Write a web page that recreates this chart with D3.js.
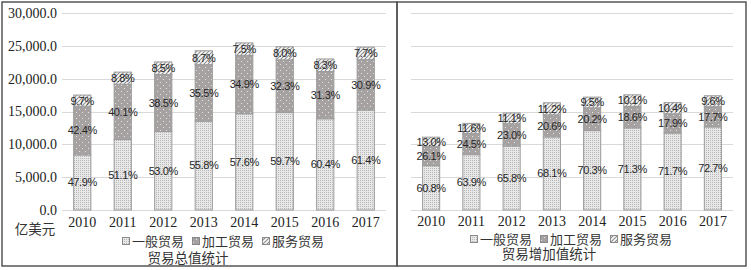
<!DOCTYPE html>
<html>
<head>
<meta charset="utf-8">
<script src="https://cdn.jsdelivr.net/npm/d3@7"></script>
<style>
    body { margin: 0; background: #fff; }
    .tick-label { font-family: "Liberation Serif", "DejaVu Serif", serif; font-size: 14px; fill: #222; }
    .cjk { font-family: "Noto Sans CJK SC", sans-serif; font-size: 13px; fill: #333; }
    .bar-label { font-family: "Liberation Sans", "DejaVu Sans", sans-serif; font-size: 11px; fill: #262626; letter-spacing: -0.4px; }
</style>
</head>
<body>
<div id="chart"></div>
<script>

// years on the x axis
let years = ["2010", "2011", "2012", "2013", "2014", "2015", "2016", "2017"];

// 贸易总值 (亿美元)
let totalGeneral    = [8380, 10730, 11950, 13530, 14660, 14840, 13890, 15230];
let totalProcessing = [7420, 8420, 8680, 8610, 8880, 8030, 7200, 7660];
let totalService    = [1700, 1850, 1920, 2110, 1910, 1990, 1910, 1910];
let totalGeneralPct    = ["47.9%", "51.1%", "53.0%", "55.8%", "57.6%", "59.7%", "60.4%", "61.4%"];
let totalProcessingPct = ["42.4%", "40.1%", "38.5%", "35.5%", "34.9%", "32.3%", "31.3%", "30.9%"];
let totalServicePct    = ["9.7%", "8.8%", "8.5%", "8.7%", "7.5%", "8.0%", "8.3%", "7.7%"];

// 贸易增加值 (亿美元)
let addedGeneral    = [6750, 8430, 9740, 11130, 12090, 12510, 11720, 12650];
let addedProcessing = [2900, 3230, 3400, 3370, 3470, 3260, 2930, 3080];
let addedService    = [1440, 1530, 1640, 1830, 1630, 1770, 1700, 1670];
let addedGeneralPct    = ["60.8%", "63.9%", "65.8%", "68.1%", "70.3%", "71.3%", "71.7%", "72.7%"];
let addedProcessingPct = ["26.1%", "24.5%", "23.0%", "20.6%", "20.2%", "18.6%", "17.9%", "17.7%"];
let addedServicePct    = ["13.0%", "11.6%", "11.1%", "11.2%", "9.5%", "10.1%", "10.4%", "9.6%"];

let yTicks = [0, 5000, 10000, 15000, 20000, 25000, 30000];
let seriesNames = ["一般贸易", "加工贸易", "服务贸易"];
let seriesKeys = ["general", "processing", "service"];


class StackVis {

    constructor(svg, config, data) {
        this.svg = svg;
        this.config = config;
        this.data = data;

        this.initVis();
    }

    initVis() {
        let vis = this;
        let c = vis.config;

        vis.g = vis.svg.append("g");

        // panel border
        vis.g.append("rect")
            .attr("x", c.box[0])
            .attr("y", c.box[1])
            .attr("width", c.box[2])
            .attr("height", c.box[3])
            .attr("fill", "none")
            .attr("stroke", "#555")
            .attr("stroke-width", 1.5);

        vis.x = d3.scaleBand()
            .domain(years)
            .range([c.left, c.right])
            .paddingInner(0.55)
            .paddingOuter(0.275);

        vis.y = d3.scaleLinear()
            .domain([0, 30000])
            .range([c.bottom, c.top]);

        // gridlines
        vis.g.selectAll(".grid")
            .data(yTicks)
            .enter()
            .append("line")
            .attr("x1", c.left)
            .attr("x2", c.right)
            .attr("y1", d => Math.round(vis.y(d)) + 0.5)
            .attr("y2", d => Math.round(vis.y(d)) + 0.5)
            .attr("stroke", "#d9d9d9")
            .attr("stroke-width", 1);

        if (c.showYAxis) {
            vis.g.selectAll(".ytick")
                .data(yTicks)
                .enter()
                .append("text")
                .attr("class", "tick-label")
                .attr("x", c.left - 5)
                .attr("y", d => vis.y(d))
                .attr("dy", "0.35em")
                .attr("text-anchor", "end")
                .text(d => d3.format(",.1f")(d));

            vis.g.append("text")
                .attr("class", "cjk")
                .attr("x", 35)
                .attr("y", 229)
                .attr("dy", "0.35em")
                .attr("text-anchor", "middle")
                .style("font-size", "13.5px")
                .text("亿美元");
        }

        // year labels
        vis.g.selectAll(".xtick")
            .data(years)
            .enter()
            .append("text")
            .attr("class", "tick-label")
            .attr("x", d => vis.x(d) + vis.x.bandwidth() / 2)
            .attr("y", c.yearY)
            .attr("dy", "0.35em")
            .attr("text-anchor", "middle")
            .text(d => d);

        vis.wrangleData();
    }

    wrangleData() {
        let vis = this;

        vis.rows = years.map((yr, i) => ({
            year: yr,
            general: vis.data.general[i],
            processing: vis.data.processing[i],
            service: vis.data.service[i],
            labels: [vis.data.generalPct[i], vis.data.processingPct[i], vis.data.servicePct[i]]
        }));

        vis.stacked = d3.stack().keys(seriesKeys)(vis.rows);

        vis.updateVis();
    }

    updateVis() {
        let vis = this;
        let c = vis.config;

        let layers = vis.g.selectAll(".layer")
            .data(vis.stacked)
            .enter()
            .append("g")
            .attr("class", "layer")
            .attr("fill", (d, i) => "url(#pat-" + seriesKeys[i] + ")");

        layers.selectAll("rect")
            .data(d => d)
            .enter()
            .append("rect")
            .attr("x", d => vis.x(d.data.year) + 0.5)
            .attr("y", d => vis.y(d[1]))
            .attr("width", vis.x.bandwidth() - 1)
            .attr("height", d => vis.y(d[0]) - vis.y(d[1]))
            .attr("stroke", "#9c9c9c")
            .attr("stroke-width", 1);

        vis.stacked.forEach((layer, li) => {
            vis.g.selectAll(".lbl-" + li)
                .data(layer)
                .enter()
                .append("text")
                .attr("class", "bar-label")
                .attr("x", d => vis.x(d.data.year) + vis.x.bandwidth() / 2)
                .attr("y", d => (vis.y(d[0]) + vis.y(d[1])) / 2)
                .attr("dy", "0.35em")
                .attr("text-anchor", "middle")
                .text(d => d.data.labels[li]);
        });

        // legend
        let legend = vis.g.append("g")
            .attr("transform", `translate(${c.legendX}, ${c.legendY})`);

        let items = legend.selectAll(".item")
            .data(seriesNames)
            .enter()
            .append("g")
            .attr("transform", (d, i) => `translate(${i * 70}, 0)`);

        items.append("rect")
            .attr("x", 0.5)
            .attr("y", -3.5)
            .attr("width", 7)
            .attr("height", 7)
            .attr("fill", (d, i) => "url(#pat-" + seriesKeys[i] + ")")
            .attr("stroke", "#8a8a8a");

        items.append("text")
            .attr("class", "cjk")
            .attr("x", 10)
            .attr("y", 0)
            .attr("dy", "0.35em")
            .text(d => d);

        vis.g.append("text")
            .attr("class", "cjk")
            .attr("x", c.titleX)
            .attr("y", c.titleY)
            .attr("dy", "0.35em")
            .attr("text-anchor", "middle")
            .style("font-size", "13.5px")
            .text(c.title);
    }
}


let svg = d3.select("#chart").append("svg")
    .attr("width", 751)
    .attr("height", 270);

// fill patterns
let defs = svg.append("defs");

let pGen = defs.append("pattern")
    .attr("id", "pat-general")
    .attr("patternUnits", "userSpaceOnUse")
    .attr("width", 2)
    .attr("height", 2);
pGen.append("rect").attr("width", 2).attr("height", 2).attr("fill", "#e8e8e8");
pGen.append("rect").attr("width", 1).attr("height", 1).attr("fill", "#b8b8b8");

let pProc = defs.append("pattern")
    .attr("id", "pat-processing")
    .attr("patternUnits", "userSpaceOnUse")
    .attr("width", 6)
    .attr("height", 6);
pProc.append("rect").attr("width", 6).attr("height", 6).attr("fill", "#a6a2a2");
pProc.append("rect").attr("x", 1).attr("y", 1).attr("width", 1).attr("height", 1).attr("fill", "#e4e2e2");
pProc.append("rect").attr("x", 4).attr("y", 4).attr("width", 1).attr("height", 1).attr("fill", "#e4e2e2");

let pServ = defs.append("pattern")
    .attr("id", "pat-service")
    .attr("patternUnits", "userSpaceOnUse")
    .attr("width", 4)
    .attr("height", 4);
pServ.append("rect").attr("width", 4).attr("height", 4).attr("fill", "#fafafa");
pServ.append("path").attr("d", "M-1,1 l2,-2 M0,4 l4,-4 M3,5 l2,-2").attr("stroke", "#8e8e8e").attr("stroke-width", 1.1);

let totalChart = new StackVis(svg, {
    box: [2, 2, 395, 264],
    left: 62, right: 386, top: 13, bottom: 210,
    showYAxis: true,
    yearY: 222,
    legendX: 122, legendY: 241,
    titleX: 188, titleY: 258,
    title: "贸易总值统计"
}, {
    general: totalGeneral, processing: totalProcessing, service: totalService,
    generalPct: totalGeneralPct, processingPct: totalProcessingPct, servicePct: totalServicePct
});

let addedChart = new StackVis(svg, {
    box: [397, 2, 349, 264],
    left: 411, right: 733, top: 13, bottom: 210,
    showYAxis: false,
    yearY: 221,
    legendX: 470, legendY: 239,
    titleX: 549, titleY: 254,
    title: "贸易增加值统计"
}, {
    general: addedGeneral, processing: addedProcessing, service: addedService,
    generalPct: addedGeneralPct, processingPct: addedProcessingPct, servicePct: addedServicePct
});

</script>
</body>
</html>
